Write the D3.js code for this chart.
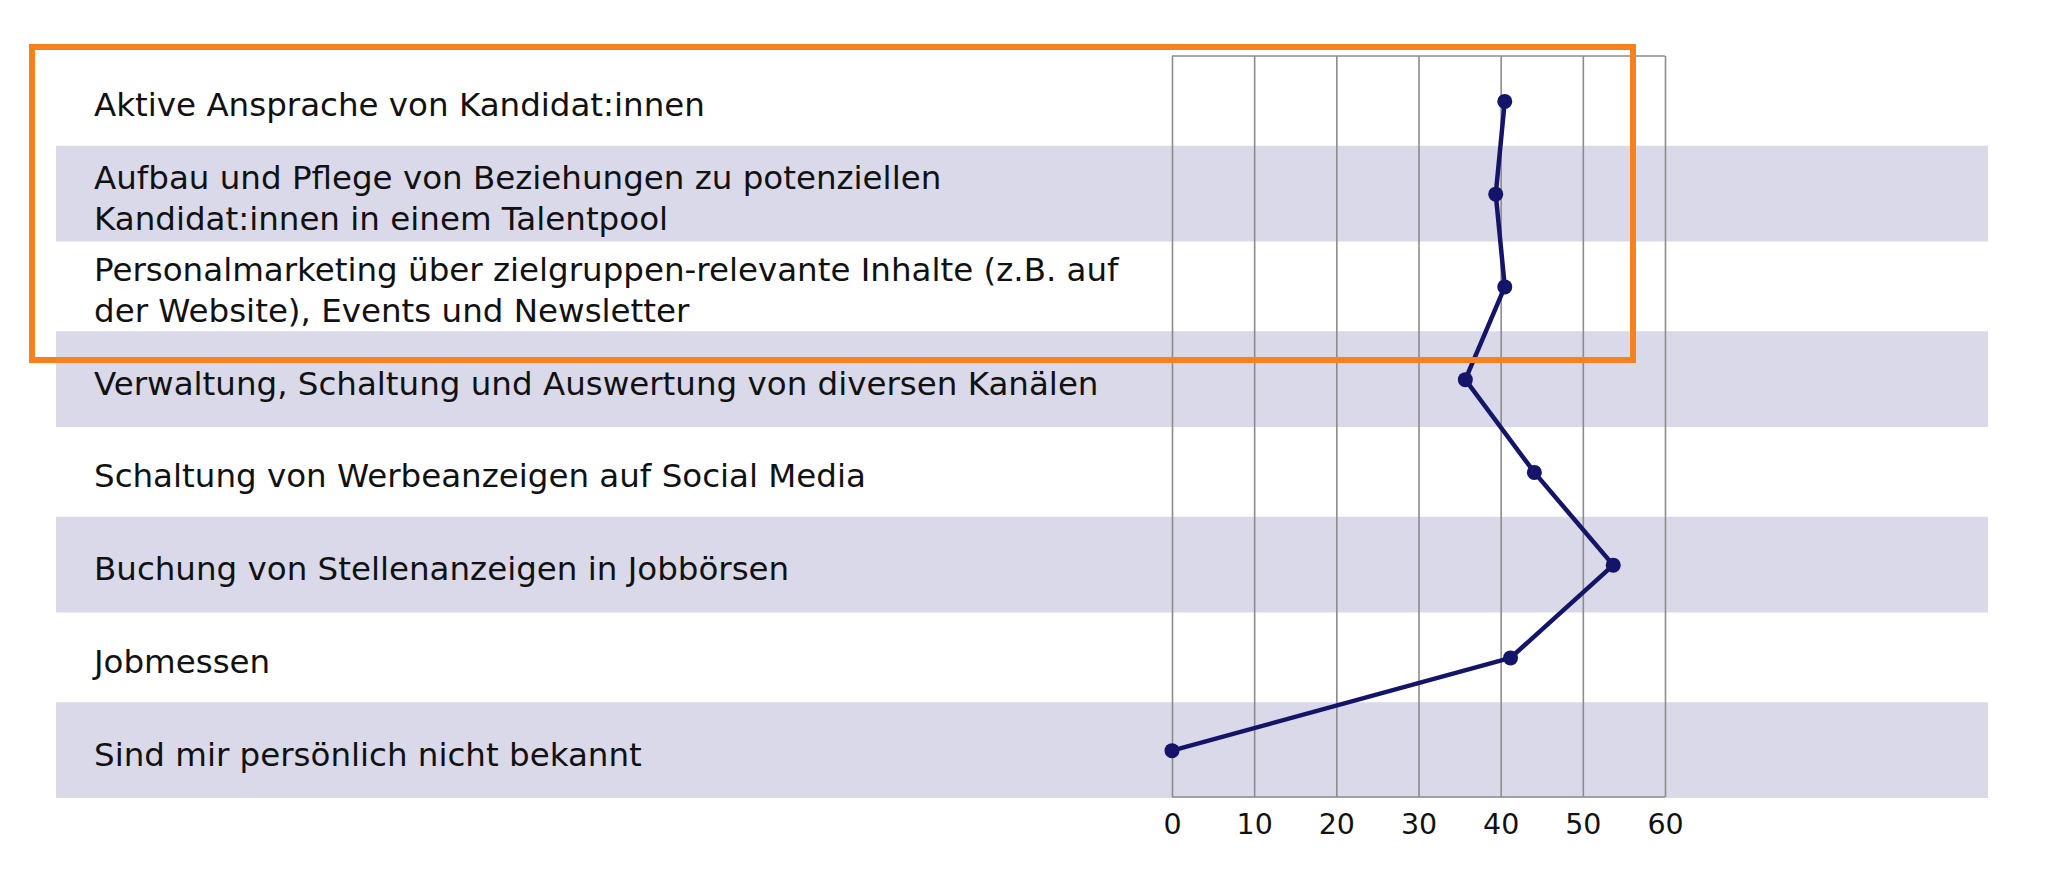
<!DOCTYPE html>
<html>
<head>
<meta charset="utf-8">
<script src="https://cdn.jsdelivr.net/npm/d3@7"></script>
<style>
  html, body { margin: 0; padding: 0; background: #fff; }
  svg { display: block; }
  text { font-family: "DejaVu Sans", "Open Sans", sans-serif; fill: #111; }
</style>
</head>
<body>
<svg id="chart" width="2048" height="870"></svg>
<script>
const categories = [
  "Aktive Ansprache von Kandidat:innen",
  "Aufbau und Pflege von Beziehungen zu potenziellen\nKandidat:innen in einem Talentpool",
  "Personalmarketing über zielgruppen-relevante Inhalte (z.B. auf\nder Website), Events und Newsletter",
  "Verwaltung, Schaltung und Auswertung von diversen Kanälen",
  "Schaltung von Werbeanzeigen auf Social Media",
  "Buchung von Stellenanzeigen in Jobbörsen",
  "Jobmessen",
  "Sind mir persönlich nicht bekannt"
];
const values = [40.5, 39.4, 40.5, 35.7, 44.1, 53.7, 41.2, 0];
const tickValues = [0, 10, 20, 30, 40, 50, 60];

(function () {
const svg = d3.select("#chart");
const gridTop = 56, gridBottom = 797;
const x = d3.scaleLinear().domain([0, 60]).range([1172, 1665]);
const y = d3.scaleBand().domain(categories).range([55, 797]).paddingInner(0).paddingOuter(0);
const bw = y.bandwidth();

// alternating bands
svg.append("g").selectAll("rect")
  .data(categories.filter((d, i) => i % 2 === 1))
  .join("rect")
  .attr("x", 56).attr("width", 1988 - 56)
  .attr("y", d => y(d) - 2).attr("height", bw + 3)
  .attr("fill", "#d9d9e9");

// grid via axis
const axis = d3.axisBottom(x).tickValues(tickValues).tickSize(-(gridBottom - gridTop)).tickPadding(17);
const gAxis = svg.append("g").attr("transform", `translate(0,${gridBottom})`).call(axis);
gAxis.select(".domain").remove();
gAxis.selectAll(".tick line").attr("stroke", "#8c8c8c").attr("stroke-width", 1.6);
gAxis.selectAll(".tick text").attr("font-size", 28.5).attr("fill", "#111")
  .style("font-family", '"DejaVu Sans", sans-serif');

// frame top & bottom lines
[gridTop, gridBottom].forEach(yy => {
  svg.append("line").attr("x1", x(0)).attr("x2", x(60)).attr("y1", yy).attr("y2", yy)
    .attr("stroke", "#8c8c8c").attr("stroke-width", 1.6);
});

// labels
const lh = 41;
const lbl = svg.append("g").selectAll("text")
  .data(categories)
  .join("text")
  .attr("x", 94)
  .attr("font-size", 32.5)
  .attr("dominant-baseline", "middle");
lbl.each(function(d) {
  const lines = d.split("\n");
  const cy = y(d) + bw / 2 + 6;
  const t = d3.select(this);
  lines.forEach((ln, k) => {
    t.append("tspan").attr("x", 94)
      .attr("y", cy - (lines.length - 1) * lh / 2 + k * lh)
      .text(ln);
  });
});

// line + markers
const pts = categories.map((c, i) => [x(values[i]), y(c) + bw / 2]);
svg.append("path")
  .attr("d", d3.line()(pts))
  .attr("fill", "none").attr("stroke", "#141468").attr("stroke-width", 4.5)
  .attr("stroke-linejoin", "round");
svg.append("g").selectAll("circle")
  .data(pts).join("circle")
  .attr("cx", d => d[0]).attr("cy", d => d[1]).attr("r", 7.5)
  .attr("fill", "#141468");

// orange highlight box
svg.append("rect")
  .attr("x", 32).attr("y", 47).attr("width", 1633 - 32).attr("height", 360 - 47)
  .attr("fill", "none").attr("stroke", "#f5821f").attr("stroke-width", 6);
})();
</script>
</body>
</html>
